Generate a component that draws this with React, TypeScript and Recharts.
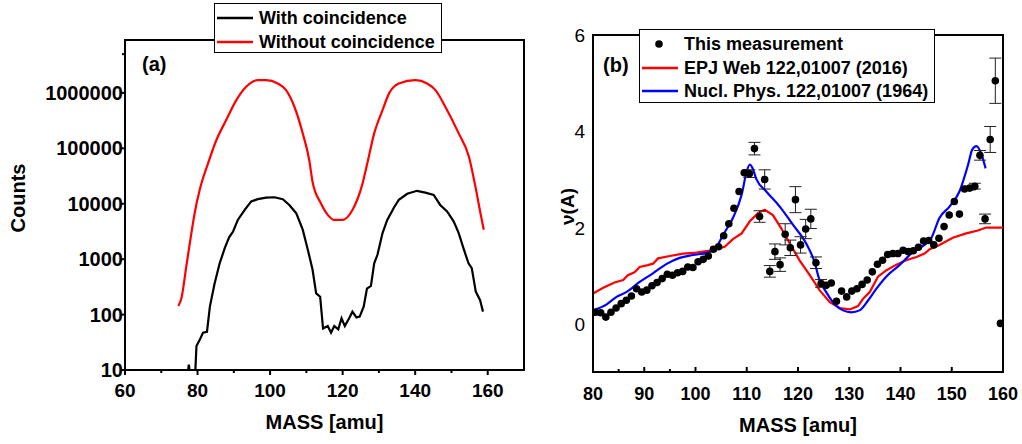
import {
  ComposedChart,
  ErrorBar,
  Line,
  LineChart,
  ReferenceArea,
  Scatter,
  XAxis,
  YAxis,
  ZAxis,
} from "recharts";

const FONT = "'Liberation Sans', Arial, sans-serif";

// (a) counts vs mass, log scale
const withCoincMass = [
  77.4, 77.6, 77.8, 79.4, 79.7, 80.6, 81.5, 82.6, 83.4, 84.7, 86.1, 87.5, 88.7, 89.8, 91.1, 93.0,
  94.8, 96.6, 98.9, 101.2, 103.5, 105.3, 107.2, 109.0, 110.4, 111.7, 112.7, 113.8, 114.6, 115.9,
  116.8, 117.7, 118.8, 119.7, 120.6, 121.8, 122.7, 123.8, 124.7, 125.8, 126.7, 127.8, 128.7, 129.6,
  131.0, 132.3, 134.2, 135.5, 137.8, 140.5, 142.8, 145.1, 146.9, 148.8, 150.6, 152.0, 153.3, 154.7,
  155.6, 156.7, 157.9, 158.7,
];
const withCoincCounts = [
  10, 12.5, 10, 10, 27, 35, 47, 49, 139, 363, 840, 1580, 2470, 3150, 5100, 7750,
  11000, 12100, 12900, 13100, 12100, 9500, 6750, 3400, 1480, 650, 242, 210, 56, 62,
  47, 62, 54, 86, 62, 86, 113, 89, 92, 139, 293, 330, 840, 1200,
  2950, 5100, 8650, 11800, 15100, 17100, 15900, 14400, 9500, 7250, 4800, 2950, 1580, 840,
  690, 260, 182, 113,
];
const withoutCoincMass = [
  74.7, 75.6, 76.9, 78.3, 79.2, 80.6, 82.9, 85.2, 87.9, 90.7, 93.4, 96.6, 98.9, 102.1, 104.4,
  106.7, 109.0, 110.8, 111.7, 114.0, 115.9, 117.7, 120.0, 122.7, 125.5, 126.8, 128.7, 131.0,
  132.8, 135.5, 140.1, 143.3, 145.6, 148.3, 152.0, 154.8, 156.6, 158.0, 158.9,
];
const withoutCoincCounts = [
  143, 204, 740, 2950, 6750, 17800, 53500, 141000, 324000, 741000, 1290000, 1700000, 1700000,
  1480000, 1120000, 562000, 186000, 61000, 25000, 10200, 6300, 5100, 5100, 7700, 23300, 53500,
  186000, 490000, 980000, 1480000, 1700000, 1480000, 1120000, 562000, 186000, 71000, 20400,
  6750, 3400,
];
const leftXTicks = [60, 70, 80, 90, 100, 110, 120, 130, 140, 150, 160];
const leftYTicks = [10, 50, 100, 500, 1000, 5000, 10000, 50000, 100000, 500000, 1000000, 5000000];

// (b) nu(A) vs mass
const epjMass = [
  80, 82, 84.2, 85.9, 86.8, 88.1, 89.1, 90.7, 91.7, 92.7, 95, 97.6, 100.2, 102.8, 105.7, 107.3,
  109, 110.6, 112.2, 113.5, 115.1, 116.7, 118.4, 120.3, 122.3, 124.2, 126.2, 128.1, 130.1, 131.7,
  132.7, 134, 135.6, 137.2, 139.2, 141.1, 143.1, 144.7, 145.7, 147.6, 150.2, 152.8, 155.1, 156.7, 160,
];
const epjNu = [
  0.63, 0.75, 0.86, 0.91, 1.01, 1.07, 1.18, 1.22, 1.25, 1.36, 1.41, 1.46, 1.48, 1.52, 1.6, 1.76,
  1.88, 2.13, 2.3, 2.37, 2.26, 1.99, 1.67, 1.32, 1.01, 0.7, 0.45, 0.33, 0.3, 0.37,
  0.52, 0.66, 0.98, 1.11, 1.23, 1.32, 1.39, 1.46, 1.55, 1.64, 1.79, 1.88, 1.94, 2.0, 2.0,
];
const nuclMass = [
  80, 82.6, 84.6, 86.5, 89.1, 91.7, 94.3, 96.9, 99.5, 102.4, 104.1, 105.4, 107.3, 109, 110, 110.6,
  111.1, 111.9, 113.8, 116.4, 119, 121.6, 123.2, 124.2, 125.5, 127.2, 128.8, 130.4, 132, 133.7,
  135.3, 137.2, 139.8, 142.1, 144.4, 146, 147.6, 149.6, 151.5, 153.2, 154, 154.8, 155.8, 156.6,
];
const nuclNu = [
  0.28, 0.4, 0.56, 0.66, 0.87, 1.05, 1.24, 1.37, 1.43, 1.48, 1.6, 1.85, 2.2, 2.68, 3.17, 3.31,
  3.24, 3.0, 2.75, 2.44, 2.06, 1.67, 1.29, 0.91, 0.66, 0.4, 0.28, 0.24, 0.28, 0.49,
  0.73, 0.98, 1.22, 1.46, 1.62, 1.78, 2.2, 2.44, 2.75, 3.31, 3.62, 3.69, 3.52, 3.23,
];
const measMass = [
  80.5, 81.5, 82.5, 83.5, 84.5, 85.5, 86.5, 87.5, 88.5, 89.5, 90.5, 91.5, 92.5, 93.5, 94.5, 95.5,
  96.5, 97.5, 98.5, 99.5, 100.5, 101.5, 102.5, 103.5, 104.5, 105.5, 106.5, 107.5, 108.5, 109.5,
  110.5, 111.5, 112.5, 113.5, 114.5, 115.5, 116.5, 117.5, 118.5, 119.5, 120.5, 121.5, 122.5, 123.5,
  124.5, 125.5, 126.5, 127.5, 128.5, 129.5, 130.5, 131.5, 132.5, 133.5, 134.5, 135.5, 136.5, 137.5,
  138.5, 139.5, 140.5, 141.5, 142.5, 143.5, 144.5, 145.5, 146.5, 147.5, 148.5, 149.5, 150.5, 151.5,
  152.5, 153.5, 154.5, 155.5, 156.5, 157.5, 158.5, 159.5,
];
const measNu = [
  0.24, 0.23, 0.14, 0.24, 0.33, 0.42, 0.49, 0.58, 0.73, 0.66, 0.7, 0.79, 0.86, 0.94, 1.03, 1.01,
  1.06, 1.09, 1.18, 1.17, 1.29, 1.34, 1.41, 1.55, 1.6, 1.83, 2.08, 2.4, 2.75, 3.14,
  3.12, 3.64, 2.23, 3.0, 1.09, 1.5, 1.23, 1.86, 1.58, 2.58, 1.64, 1.97, 2.18, 1.27,
  0.84, 0.8, 0.85, 0.47, 0.68, 0.56, 0.68, 0.73, 0.82, 0.91, 1.08, 1.24, 1.32, 1.44,
  1.46, 1.46, 1.53, 1.5, 1.52, 1.59, 1.72, 1.73, 1.64, 1.78, 2.02, 2.26, 2.54, 2.28,
  2.8, 2.82, 2.86, 3.5, 2.18, 3.83, 5.05, 0.01,
];
const measErr = [
  0, 0, 0, 0, 0, 0, 0, 0, 0, 0, 0, 0, 0, 0, 0, 0,
  0, 0, 0, 0, 0, 0, 0, 0, 0, 0, 0, 0, 0, 0,
  0.08, 0.13, 0.12, 0.2, 0.12, 0.16, 0.14, 0.22, 0.16, 0.27, 0.17, 0.2, 0.2, 0.12,
  0.08, 0, 0, 0, 0, 0, 0, 0, 0, 0, 0, 0, 0, 0,
  0, 0, 0, 0, 0, 0, 0, 0, 0, 0, 0, 0, 0, 0,
  0, 0.04, 0.06, 0.1, 0.1, 0.27, 0.47, 0,
];
const rightXTicks = [80, 85, 90, 95, 100, 105, 110, 115, 120, 125, 130, 135, 140, 145, 150, 155, 160];
const rightYTicks = [0, 2, 4, 6];

const withData = withCoincMass.map((m, i) => ({ m, v: withCoincCounts[i] }));
const withoutData = withoutCoincMass.map((m, i) => ({ m, v: withoutCoincCounts[i] }));
const epjData = epjMass.map((m, i) => ({ m, v: epjNu[i] }));
const nuclData = nuclMass.map((m, i) => ({ m, v: nuclNu[i] }));
const measData = measMass.map((m, i) => ({ m, v: measNu[i], err: measErr[i] }));

const isMajorLog = (v: number) => Math.abs(Math.log10(v) - Math.round(Math.log10(v))) < 1e-6;

function LeftXTick(p: any) {
  const major = p.payload.value % 20 === 0;
  return (
    <g>
      <line x1={p.x} x2={p.x} y1={p.y} y2={p.y + (major ? 5 : 3)} stroke="#000" strokeWidth={2} />
      {major && (
        <text x={p.x} y={p.y + 27} textAnchor="middle" fontFamily={FONT} fontWeight="bold" fontSize={19} fill="#000">
          {p.payload.value}
        </text>
      )}
    </g>
  );
}

function LeftYTick(p: any) {
  const major = isMajorLog(p.payload.value);
  return (
    <g>
      <line x1={p.x} x2={p.x - (major ? 5 : 3)} y1={p.y} y2={p.y} stroke="#000" strokeWidth={2} />
      {major && (
        <text x={p.x - 2} y={p.y + 7} textAnchor="end" fontFamily={FONT} fontWeight="bold" fontSize={20} fill="#000">
          {p.payload.value}
        </text>
      )}
    </g>
  );
}

function RightXTick(p: any) {
  const major = p.payload.value % 10 === 0;
  return (
    <g>
      <line x1={p.x} x2={p.x} y1={p.y} y2={p.y - (major ? 5 : 3)} stroke="#000" strokeWidth={2} />
      {major && (
        <text x={p.x} y={p.y + 28} textAnchor="middle" fontFamily={FONT} fontWeight="bold" fontSize={18} fill="#000">
          {p.payload.value}
        </text>
      )}
    </g>
  );
}

function RightYTick(p: any) {
  return (
    <text x={p.x - 8} y={p.y + 7} textAnchor="end" fontFamily={FONT} fontSize={19} fill="#000">
      {p.payload.value}
    </text>
  );
}

const xTitle = (text: string, baseline: number) => (props: any) => {
  const { x, width } = props.viewBox;
  return (
    <text x={x + width / 2} y={baseline} textAnchor="middle" fontFamily={FONT} fontWeight="bold" fontSize={20} fill="#000">
      {text}
    </text>
  );
};

const yTitle = (text: string, cx: number, dy: number, size: number) => (props: any) => {
  const { y, height } = props.viewBox;
  const cy = y + height / 2 + dy;
  return (
    <text
      x={cx}
      y={cy}
      transform={`rotate(-90 ${cx} ${cy})`}
      textAnchor="middle"
      dominantBaseline="central"
      fontFamily={FONT}
      fontWeight="bold"
      fontSize={size}
      fill="#000"
    >
      {text}
    </text>
  );
};

const legendText = { fontFamily: FONT, fontWeight: "bold" as const, fontSize: 18, color: "#000" };

function LegendRow({ top, left, children, swatch }: any) {
  return (
    <div style={{ position: "absolute", top, left, display: "flex", alignItems: "center", height: 22, marginTop: -11 }}>
      {swatch}
      <span style={{ ...legendText, marginLeft: 6, whiteSpace: "nowrap" }}>{children}</span>
    </div>
  );
}

const lineSwatch = (color: string) => (
  <svg width={36} height={6}>
    <line x1={0} x2={36} y1={3} y2={3} stroke={color} strokeWidth={2.5} />
  </svg>
);

export default function App() {
  return (
    <div style={{ position: "absolute", left: 0, top: 0, width: 1022, height: 444, background: "#fff", overflow: "hidden" }}>
      <div style={{ position: "absolute", left: 0, top: 0 }}>
        <LineChart width={540} height={444} margin={{ top: 40, right: 16, bottom: 0, left: 0 }}>
          <XAxis
            type="number"
            dataKey="m"
            domain={[60, 170]}
            ticks={leftXTicks}
            allowDataOverflow
            height={74}
            tickSize={0}
            tickMargin={0}
            tickLine={false}
            tick={(p: any) => <LeftXTick {...p} />}
            axisLine={{ stroke: "#000", strokeWidth: 2 }}
            label={{ content: xTitle("MASS [amu]", 429) }}
          />
          <YAxis
            type="number"
            scale="log"
            domain={[10, 9000000]}
            ticks={leftYTicks}
            allowDataOverflow
            width={125}
            tickSize={0}
            tickMargin={0}
            tickLine={false}
            tick={(p: any) => <LeftYTick {...p} />}
            axisLine={{ stroke: "#000", strokeWidth: 2 }}
            label={{ content: yTitle("Counts", 17.5, -7, 20) }}
          />
          <ReferenceArea x1={60} x2={170} y1={10} y2={9000000} fill="none" stroke="#000" strokeWidth={2} ifOverflow="visible" />
          <Line data={withoutData} dataKey="v" type="monotone" stroke="#ff0000" strokeWidth={2.2} dot={false} isAnimationActive={false} />
          <Line data={withData} dataKey="v" type="linear" stroke="#000" strokeWidth={2.2} dot={false} isAnimationActive={false} />
        </LineChart>
      </div>

      <div style={{ position: "absolute", left: 540, top: 0 }}>
        <ComposedChart width={482} height={444} margin={{ top: 35, right: 19, bottom: 0, left: 0 }}>
          <XAxis
            type="number"
            dataKey="m"
            domain={[80, 160]}
            ticks={rightXTicks}
            allowDataOverflow
            height={72}
            tickSize={0}
            tickMargin={0}
            tickLine={false}
            tick={(p: any) => <RightXTick {...p} />}
            axisLine={{ stroke: "#000", strokeWidth: 2 }}
            label={{ content: xTitle("MASS [amu]", 432) }}
          />
          <YAxis
            type="number"
            dataKey="v"
            domain={[-1, 6]}
            ticks={rightYTicks}
            allowDataOverflow
            width={53}
            tickSize={0}
            tickMargin={0}
            tickLine={false}
            tick={(p: any) => <RightYTick {...p} />}
            axisLine={{ stroke: "#000", strokeWidth: 2 }}
            label={{ content: yTitle("ν(A)", 27, 3, 19) }}
          />
          <ZAxis type="number" range={[45, 45]} />
          <ReferenceArea x1={80} x2={160} y1={-1} y2={6} fill="none" stroke="#000" strokeWidth={2} ifOverflow="visible" />
          <Line data={epjData} dataKey="v" type="linear" stroke="#ff0000" strokeWidth={2.2} dot={false} isAnimationActive={false} />
          <Line data={nuclData} dataKey="v" type="monotone" stroke="#0000ff" strokeWidth={2.2} dot={false} isAnimationActive={false} />
          <Scatter data={measData} dataKey="v" fill="#000" isAnimationActive={false}>
            <ErrorBar dataKey="err" direction="y" width={6} stroke="#222" strokeWidth={1} />
          </Scatter>
        </ComposedChart>
      </div>

      <div style={{ position: "absolute", left: 142, top: 53, ...legendText, fontSize: 20 }}>(a)</div>
      <div style={{ position: "absolute", left: 603, top: 54, ...legendText, fontSize: 20 }}>(b)</div>

      <div
        style={{
          position: "absolute",
          left: 214,
          top: 3,
          width: 228,
          height: 50,
          boxSizing: "border-box",
          border: "1px solid #000",
          background: "#fff",
        }}
      >
        <LegendRow top={14} left={2} swatch={lineSwatch("#000")}>With coincidence</LegendRow>
        <LegendRow top={38} left={2} swatch={lineSwatch("#ff0000")}>Without coincidence</LegendRow>
      </div>

      <div
        style={{
          position: "absolute",
          left: 639,
          top: 29,
          width: 296,
          height: 74,
          boxSizing: "border-box",
          border: "1px solid #000",
          background: "#fff",
        }}
      >
        <LegendRow
          top={14}
          left={2}
          swatch={
            <svg width={36} height={10}>
              <circle cx={17} cy={5} r={3.8} fill="#000" />
            </svg>
          }
        >
          This measurement
        </LegendRow>
        <LegendRow top={38} left={2} swatch={lineSwatch("#ff0000")}>EPJ Web 122,01007 (2016)</LegendRow>
        <LegendRow top={61} left={2} swatch={lineSwatch("#0000ff")}>Nucl. Phys. 122,01007 (1964)</LegendRow>
      </div>
    </div>
  );
}
